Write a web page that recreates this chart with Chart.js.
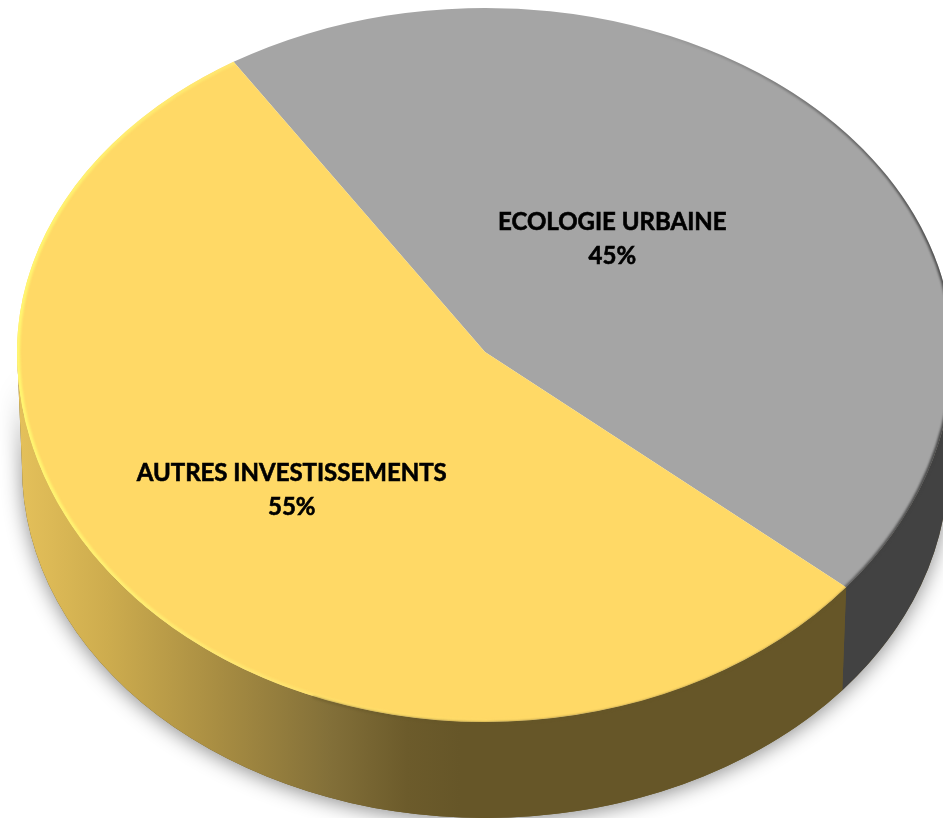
<!DOCTYPE html>
<html lang="fr">
<head>
<meta charset="utf-8">
<title>Investissements</title>
<script src="https://cdn.jsdelivr.net/npm/chart.js@4/dist/chart.umd.min.js"></script>
<style>
  html, body { margin: 0; padding: 0; background: #fff; }
  canvas { display: block; }
</style>
</head>
<body>
<canvas id="pie" width="943" height="818"></canvas>
<script>
const categories = ["ECOLOGIE URBAINE", "AUTRES INVESTISSEMENTS"];
const shares = [45, 55];
const faceColors = ["#A5A5A5", "#FFD966"];

// tilted disc: top face ellipse is a little taller towards the viewer
const RADIUS = 468;
const hub = { x: 485, y: 352 };
const farRadiusY = 344;
const nearRadiusY = 370;
// lower edge of the side wall
const base = { x: 485, y: 467, rx: 463, ry: 351 };
// label centres, relative to the hub, in radius units
const labelOffsets = [[0.272, -0.24], [-0.413, 0.295]];

function faceRim(ctx) {
  ctx.beginPath();
  ctx.ellipse(hub.x, hub.y, RADIUS, farRadiusY, 0, Math.PI, Math.PI * 2);
  ctx.ellipse(hub.x, hub.y, RADIUS, nearRadiusY, 0, 0, Math.PI);
  ctx.closePath();
}

// wedge of the top face for an arc that starts at the far side and ends near, or the reverse
function clipSlice(ctx, arc) {
  const a0 = arc.startAngle;
  const a1 = arc.endAngle;
  const dy = (a) => (Math.sin(a) >= 0 ? nearRadiusY : farRadiusY);
  ctx.beginPath();
  ctx.moveTo(hub.x, hub.y);
  const steps = 90;
  for (let i = 0; i <= steps; i++) {
    const a = a0 + (a1 - a0) * i / steps;
    ctx.lineTo(hub.x + RADIUS * Math.cos(a), hub.y + dy(a) * Math.sin(a));
  }
  ctx.closePath();
  ctx.clip();
}

function wallPath(ctx, from, to) {
  ctx.beginPath();
  ctx.ellipse(hub.x, hub.y, RADIUS, nearRadiusY, 0, from, to);
  ctx.ellipse(base.x, base.y, base.rx, base.ry, 0, to, from, true);
  ctx.closePath();
}

function drawWalls(ctx, seam) {
  const yellowWall = ctx.createLinearGradient(20, 0, 460, 0);
  yellowWall.addColorStop(0, "#E4C05A");
  yellowWall.addColorStop(0.2, "#CDAC4E");
  yellowWall.addColorStop(0.45, "#A88D42");
  yellowWall.addColorStop(0.7, "#837039");
  yellowWall.addColorStop(0.88, "#6C5B2B");
  yellowWall.addColorStop(1, "#665628");

  // soft drop shadow under the disc
  ctx.save();
  ctx.shadowColor = "rgba(0,0,0,0.45)";
  ctx.shadowBlur = 20;
  ctx.shadowOffsetY = 3;
  wallPath(ctx, 0, Math.PI);
  ctx.fillStyle = "#665628";
  ctx.fill();
  ctx.restore();

  wallPath(ctx, 0, seam);
  ctx.fillStyle = "#424242";
  ctx.fill();
  wallPath(ctx, seam, Math.PI);
  ctx.fillStyle = yellowWall;
  ctx.fill();
}

function drawFace(ctx, meta, clipY, height, radiusY) {
  const arc = meta.data[0];
  ctx.save();
  ctx.beginPath();
  ctx.rect(0, clipY, ctx.canvas.width, height);
  ctx.clip();
  ctx.translate(hub.x, hub.y);
  ctx.scale(1, radiusY / RADIUS);
  ctx.translate(-arc.x, -arc.y);
  meta.controller.draw();
  ctx.restore();
}

function drawBevel(ctx, arcs) {
  // bright lip on the yellow slice
  const lip = ctx.createLinearGradient(17, 0, 560, 0);
  lip.addColorStop(0, "rgba(255,246,112,1)");
  lip.addColorStop(0.45, "rgba(255,236,118,0.6)");
  lip.addColorStop(1, "rgba(255,228,110,0)");

  ctx.save();
  clipSlice(ctx, arcs[1]);
  ctx.filter = "blur(1px)";
  faceRim(ctx);
  ctx.strokeStyle = lip;
  ctx.lineWidth = 6;
  ctx.stroke();
  ctx.restore();

  // dark lip on the grey slice, strongest on the right
  const shade = ctx.createLinearGradient(640, 0, 943, 0);
  shade.addColorStop(0, "rgba(66,66,66,0)");
  shade.addColorStop(1, "rgba(66,66,66,0.9)");
  ctx.save();
  clipSlice(ctx, arcs[0]);
  ctx.filter = "blur(1px)";
  faceRim(ctx);
  ctx.strokeStyle = shade;
  ctx.lineWidth = 4;
  ctx.stroke();
  ctx.restore();

  // the front edge melts slightly into the wall
  ctx.save();
  ctx.filter = "blur(1.2px)";
  ctx.beginPath();
  ctx.ellipse(hub.x, hub.y + 1, RADIUS, nearRadiusY, 0, 0, arcs[0].endAngle);
  ctx.strokeStyle = "rgba(66,66,66,0.55)";
  ctx.lineWidth = 2;
  ctx.stroke();
  ctx.beginPath();
  ctx.ellipse(hub.x, hub.y + 1, RADIUS, nearRadiusY, 0, arcs[0].endAngle, Math.PI * 0.62);
  ctx.strokeStyle = "rgba(102,86,40,0.6)";
  ctx.lineWidth = 2;
  ctx.stroke();
  ctx.restore();
}

const disc3d = {
  id: "disc3d",
  beforeDatasetDraw(chart, args) {
    const ctx = chart.ctx;
    const arcs = args.meta.data;
    // canvas angle where the two slices meet at the front of the disc
    drawWalls(ctx, arcs[0].endAngle);
    drawFace(ctx, args.meta, 0, hub.y, farRadiusY);
    drawFace(ctx, args.meta, hub.y, ctx.canvas.height - hub.y, nearRadiusY);
    drawBevel(ctx, arcs);
    return false;
  },
  afterDatasetsDraw(chart) {
    const ctx = chart.ctx;
    ctx.save();
    ctx.fillStyle = "#000";
    ctx.strokeStyle = "#000";
    ctx.lineWidth = 0.6;
    ctx.textAlign = "center";
    ctx.textBaseline = "middle";
    ctx.font = "bold 24px Lato";
    categories.forEach((name, i) => {
      const x = hub.x + labelOffsets[i][0] * RADIUS;
      const y = hub.y + labelOffsets[i][1] * RADIUS;
      [name, shares[i] + "%"].forEach((text, line) => {
        const ty = y + (line === 0 ? -17 : 17);
        ctx.fillText(text, x, ty);
        ctx.strokeText(text, x, ty);
      });
    });
    ctx.restore();
  }
};

new Chart(document.getElementById("pie"), {
  type: "pie",
  data: {
    labels: categories,
    datasets: [{
      data: shares,
      backgroundColor: faceColors,
      borderWidth: 0
    }]
  },
  options: {
    responsive: false,
    animation: false,
    radius: RADIUS,
    rotation: -32.5,
    layout: { padding: 0 },
    plugins: {
      legend: { display: false },
      tooltip: { enabled: false }
    }
  },
  plugins: [disc3d]
});
</script>
</body>
</html>
